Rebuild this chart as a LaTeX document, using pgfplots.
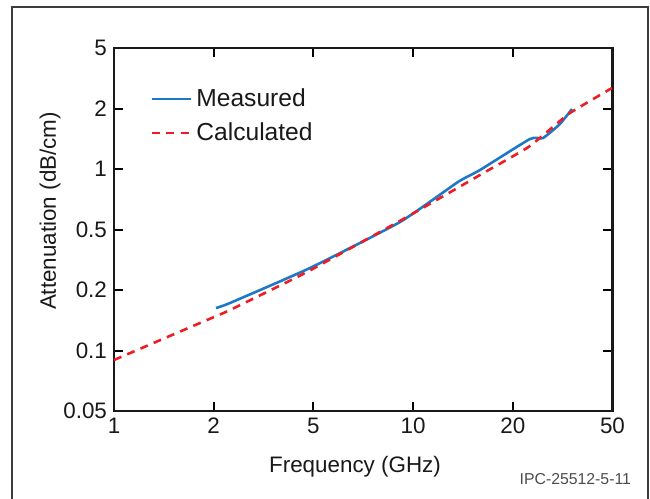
\documentclass[border=0pt]{standalone}
\usepackage{pgfplots}
\pgfplotsset{compat=1.18}
\usepackage{fontspec}
\setmainfont{Liberation Sans}
\definecolor{measblue}{RGB}{30,120,200}
\definecolor{calcred}{RGB}{238,28,37}
\definecolor{frame}{RGB}{60,60,60}
\begin{document}
\begin{tikzpicture}
\useasboundingbox (-57pt,-44pt) rectangle (268pt,205.5pt);
\draw[frame, line width=0.6pt] (-51pt,-44pt) -- (-51pt,202pt) -- (267pt,202pt) -- (267pt,-44pt);
\begin{axis}[
  at={(0pt,0pt)}, anchor=south west,
  scale only axis,
  width=249.25pt, height=181.5pt,
  xmin=0, xmax=5, ymin=0, ymax=6,
  xtick={0,1,2,3,4,5}, xticklabels={1,2,5,10,20,50},
  ytick={0,1,2,3,4,5,6}, yticklabels={0.05,0.1,0.2,0.5,1,2,5},
  tick align=inside, tick pos=both,
  xticklabel pos=bottom, yticklabel pos=left,
  major tick length=4.5pt,
  every tick/.style={black, line width=1pt},
  axis line style={black!90, line width=1.1pt},
  ticklabel style={font=\fontsize{11.2}{13}\selectfont, text=black!90},
  /pgf/number format/assume math mode=true,
  legend style={draw=none, fill=none, at={(0.073,0.90)}, anchor=north west,
    font=\fontsize{12.3}{14}\selectfont, inner xsep=0pt, inner ysep=0pt,
    row sep=2.5pt, text=black!90},
  legend cell align=left,
  legend image code/.code={\draw[#1] (0pt,0pt) -- (17pt,0pt); \path (0pt,0pt) -- (19.5pt,0pt);},
  clip=false,
]
\addplot[measblue, line width=1.3pt, smooth, tension=0.3] coordinates {
(1.023,1.702) (1.163,1.785) (1.966,2.364) (2.869,3.124) (3.450,3.785)
(3.671,3.983) (4.172,4.496) (4.303,4.512) (4.473,4.744) (4.594,4.992)
};
\addlegendentry{Measured}
\addplot[calcred, line width=1.3pt, dash pattern=on 4pt off 3.2pt, smooth, tension=0.3] coordinates {
(0,0.843) (0.863,1.455) (1.163,1.669) (1.936,2.298) (2.909,3.180)
(3.671,3.901) (4.142,4.347) (4.343,4.612) (4.574,4.926) (4.995,5.339)
};
\addlegendentry{Calculated}
\end{axis}
\node[font=\fontsize{11.2}{13}\selectfont, text=black!90] at (120.5pt,-28pt) {Frequency (GHz)};
\node[font=\fontsize{11.2}{13}\selectfont, text=black!90, rotate=90] at (-32pt,100pt) {Attenuation (dB/cm)};
\node[font=\fontsize{7.9}{9}\selectfont, text=black!70, anchor=east] at (262pt,-34pt) {IPC-25512-5-11};
\end{tikzpicture}
\end{document}
